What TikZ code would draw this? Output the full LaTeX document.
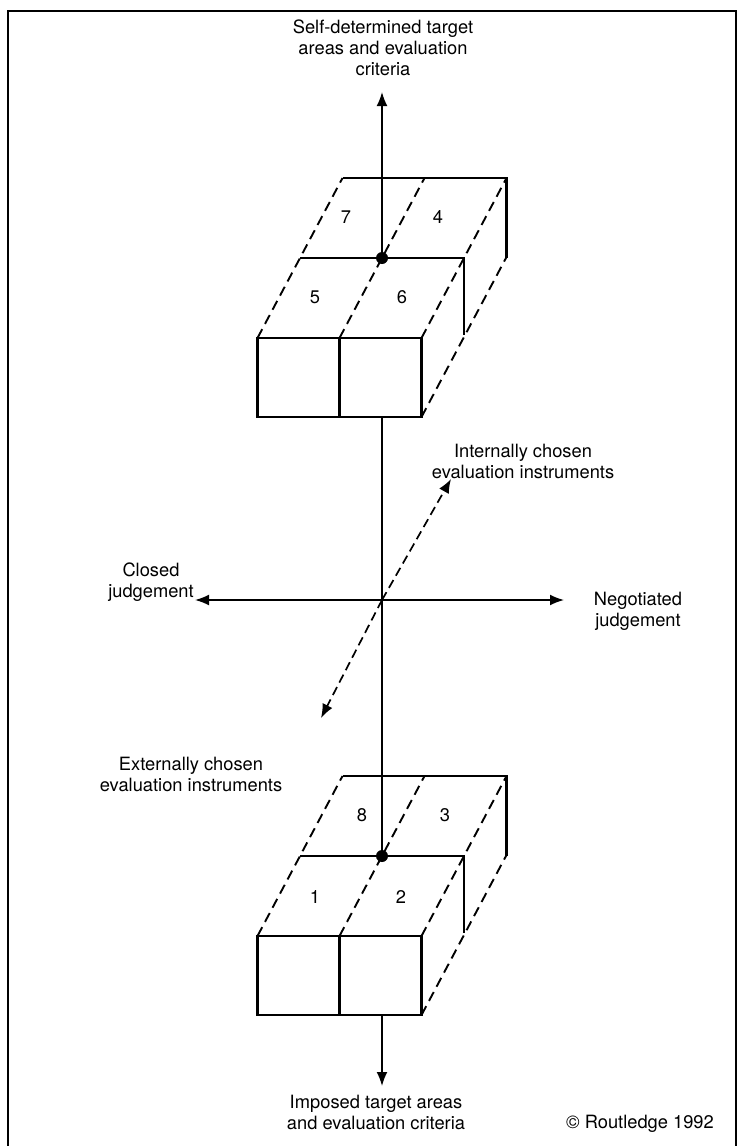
\documentclass[tikz,border=0pt]{standalone}
\usepackage{fontspec}
\setmainfont{TeX Gyre Heros}
\usetikzlibrary{arrows.meta}
\begin{document}
\begin{tikzpicture}[x=1pt,y=-1pt,
  edge/.style={line width=2.1pt, line join=miter},
  hidden/.style={line width=1.9pt, dash pattern=on 10pt off 6pt},
  axisline/.style={line width=1.7pt},
  tip/.style={-{Latex[length=14pt,width=11pt]}},
  caption/.style={align=center, font=\fontsize{18.3}{21}\selectfont, inner sep=0pt},
  dot/.style={circle, fill, inner sep=0pt, minimum size=12pt},
  cuboid/.pic={
    % front face split in two cells
    \draw[edge] (0,0) rectangle (164,79);
    \draw[edge] (82,0) -- (82,79);
    % back top edge and back right edge
    \draw[edge] (85,-160) -- (249,-160) -- (249,-80);
    % edges at half depth
    \draw[edge] (42.5,-80) -- (206.5,-80) -- (206.5,-3);
    % receding edges
    \draw[hidden] (0,0) -- (85,-160);
    \draw[hidden] (82,0) -- (167,-160);
    \draw[hidden] (164,0) -- (249,-160);
    \draw[hidden] (164,79) -- (249,-81);
    \node[dot] (-dot) at (124.5,-80) {};
    \coordinate (-bot) at (124.5,79);
  }]
\useasboundingbox (0,0) rectangle (738,1146);
\draw[line width=1.8pt] (8,1146) -- (8,11) -- (736,11) -- (736,1146);

% the two blocks
\pic (top) at (257.5,338) {cuboid};
\pic (low) at (257.5,936) {cuboid};

% cell numbers
\node[caption] (n7) at (346,217) {7};
\node[caption] (n4) at (438,217) {4};
\node[caption] (n5) at (315,297) {5};
\node[caption] (n6) at (402,297) {6};
\node[caption] (n8) at (362,815) {8};
\node[caption] (n3) at (445,815) {3};
\node[caption] (n1) at (315,897) {1};
\node[caption] (n2) at (401,897) {2};

% labels
\node[caption] (self) at (383,48) {Self-determined target\\areas and evaluation\\criteria};
\node[caption] (imposed) at (376,1112) {Imposed target areas\\and evaluation criteria};
\node[caption] (closed) at (151,582) {Closed\\judgement};
\node[caption] (negot) at (638,611) {Negotiated\\judgement};
\node[caption] (intern) at (523,461) {Internally chosen\\evaluation instruments};
\node[caption] (extern) at (191,774) {Externally chosen\\evaluation instruments};
\node[caption] (copy) at (640,1124) {© Routledge 1992};

% axes
\coordinate (origin) at (382,600);
\coordinate (upend) at (382,92);
\coordinate (downend) at (382,1086);
\coordinate (leftend) at (195,600);
\coordinate (rightend) at (564,600);
\coordinate (inend) at (451,479);
\coordinate (exend) at (321,718);

\draw[axisline, tip] (top-dot) -- (upend);
\draw[axisline] (top-bot) -- (low-dot);
\draw[axisline, tip] (low-bot) -- (downend);
\draw[axisline, tip] (origin) -- (leftend);
\draw[axisline, tip] (origin) -- (rightend);
\draw[axisline, dash pattern=on 9pt off 5pt, tip] (origin) -- (inend);
\draw[axisline, dash pattern=on 9pt off 5pt, tip] (origin) -- (exend);
\end{tikzpicture}
\end{document}
